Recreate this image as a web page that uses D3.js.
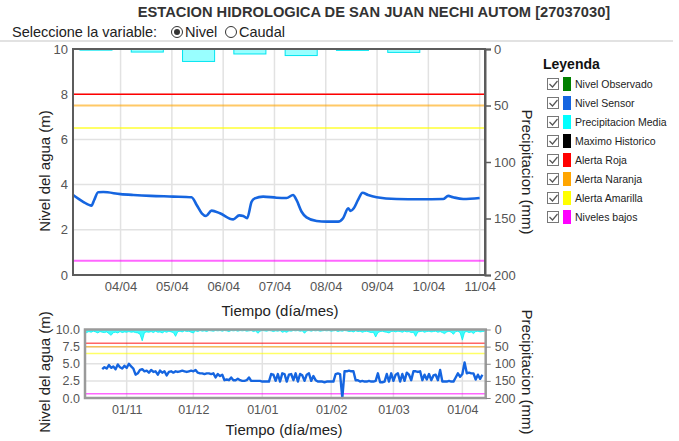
<!DOCTYPE html>
<html><head><meta charset="utf-8">
<script src="https://cdn.jsdelivr.net/npm/d3@7"></script>
<style>body{margin:0;background:#fff}svg{display:block;font-family:"Liberation Sans",Arial,sans-serif}</style>
</head><body><svg id="c" width="679" height="441"></svg>
<script>
// ---------- DATA ----------
const title = "ESTACION HIDROLOGICA DE SAN JUAN NECHI AUTOM [27037030]";
const mainDomain = ["2021-04-03 01:45", "2021-04-11 02:30"];
const mainTimes = ["2021-04-03 01:48","2021-04-03 06:30","2021-04-03 10:24","2021-04-03 11:40","2021-04-03 13:30","2021-04-03 15:54","2021-04-04 00:00","2021-04-04 06:00","2021-04-04 14:00","2021-04-05 00:36","2021-04-05 09:12","2021-04-05 11:36","2021-04-05 14:00","2021-04-05 16:00","2021-04-05 18:36","2021-04-05 22:30","2021-04-06 04:42","2021-04-06 07:30","2021-04-06 09:24","2021-04-06 11:12","2021-04-06 13:18","2021-04-06 14:48","2021-04-06 18:42","2021-04-07 01:00","2021-04-07 05:42","2021-04-07 08:42","2021-04-07 10:18","2021-04-07 12:42","2021-04-07 15:00","2021-04-07 19:42","2021-04-08 00:24","2021-04-08 05:48","2021-04-08 08:06","2021-04-08 10:30","2021-04-08 11:36","2021-04-08 13:06","2021-04-08 15:06","2021-04-08 17:12","2021-04-08 19:48","2021-04-08 23:48","2021-04-09 09:06","2021-04-09 20:00","2021-04-10 06:54","2021-04-10 09:18","2021-04-10 11:36","2021-04-10 16:18","2021-04-11 00:00"];
const mainLevels = [3.54,3.24,3.07,3.32,3.66,3.67,3.58,3.54,3.50,3.47,3.44,3.10,2.73,2.61,2.85,2.73,2.46,2.64,2.61,2.51,3.24,3.39,3.47,3.42,3.41,3.54,3.32,2.80,2.55,2.39,2.36,2.36,2.51,2.95,2.83,2.95,3.32,3.64,3.54,3.44,3.36,3.35,3.36,3.50,3.44,3.36,3.41];
const precipDays = ["2021-04-03","2021-04-04","2021-04-05","2021-04-06","2021-04-07","2021-04-08","2021-04-09"];
const precipValues = [1.0, 2.7, 11.0, 4.4, 5.8, 1.2, 3.0];
const thresholds = [
  {name:"Alerta Roja", value:8.0, color:"#ff0000"},
  {name:"Alerta Naranja", value:7.5, color:"#ffa500"},
  {name:"Alerta Amarilla", value:6.5, color:"#ffff00"},
  {name:"Niveles bajos", value:0.63, color:"#ff00ff"}
];
const levelTicks = [0,2,4,6,8,10];
const precipTicks = [0,50,100,150,200];
const overviewLevelTicks = [0,2.5,5,7.5,10];
// overview (last 180 days)
const overviewDomain = ["2020-10-13 06:00", "2021-04-11 12:00"];
const overviewLevelStart = "2020-10-21 00:00";
const overviewLevels = [4.2,4.5,4.3,4.8,4.4,4.6,4.2,4.9,4.5,4.3,4.7,4.4,5.0,4.6,4.3,
 3.4,3.6,4.1,4.2,3.9,
 4.0,3.7,4.1,3.8,3.9,3.4,4.0,3.7,3.9,3.3,3.8,3.9,3.7,
 3.9,3.8,3.9,4.0,3.9,3.8,3.9,4.0,3.9,4.1,
 3.7,3.6,3.6,3.5,3.6,3.6,3.5,3.6,
 3.0,3.5,3.2,3.4,
 2.6,2.7,2.6,3.0,2.6,2.6,2.8,2.6,
 2.5,2.5,2.6,3.0,2.5,2.5,2.5,2.5,2.5,
 2.4,2.4,2.4,2.4,
 3.5,3.4,2.5,3.5,2.4,3.6,3.5,2.4,3.4,3.5,2.6,3.6,2.4,3.5,3.3,2.5,3.4,3.6,2.5,3.2,2.6,
 2.4,2.4,2.4,2.3,2.4,2.4,2.4,2.4,
 3.5,3.6,3.5,
 0.0,
 3.9,3.9,4.0,3.9,3.9,
 2.6,2.6,
 2.4,2.5,2.4,2.4,2.5,2.4,2.4,2.5,3.6,
 2.3,2.3,2.4,
 3.5,2.4,3.6,2.5,3.4,3.6,2.4,3.5,2.5,3.7,3.4,2.6,
 3.9,3.9,3.8,3.9,
 2.6,3.4,2.7,3.5,2.6,3.3,3.4,2.6,
 4.1,
 2.4,2.4,2.4,2.5,2.4,2.4,
 3.0,3.6,3.1,3.5,
 5.2,
 3.6,3.7,3.6,3.6,
 2.7,3.4,2.8,
 3.4];
const overviewPrecipStart = "2020-10-13 00:00";
const overviewPrecip = [11,9,6,8,5,7,10,6,8,9, 7,12,17,9,8,10,6,9,7,8, 6,8,7,9,10,14,33,9,7,8,
 6,9,5,8,7,10,6,8,5,7, 9,20,6,5,7,4,6,5,8,10, 4,6,3,5,4,6,3,4,5,3, 4,3,5,3,4,6,3,4,3,5,
 3,4,3,5,4,3,6,4,11,5, 3,4,5,3,4,6,4,5,3,8, 6,8,4,5,3,4,3,5,4,11, 4,3,5,3,4,3,5,4,3,4,
 3,5,4,3,6,4,5,3,4,6, 5,7,4,6,5,8,6,5,7,9, 8,22,9,6,5,7,8,10,6,5, 7,5,6,8,5,7,6,9,8,20,
 7,6,5,8,6,5,7,6,5,8, 6,9,12,7,5,8,14,6,5,9, 31,8,6,9,7,12,6,5,7,6, 5];
const legendItems = [
  {name:"Nivel Observado", color:"#008000"},
  {name:"Nivel Sensor", color:"#1565e0"},
  {name:"Precipitacion Media", color:"#00ffff"},
  {name:"Maximo Historico", color:"#000000"},
  {name:"Alerta Roja", color:"#ff0000"},
  {name:"Alerta Naranja", color:"#ffa500"},
  {name:"Alerta Amarilla", color:"#ffff00"},
  {name:"Niveles bajos", color:"#ff00ff"}
];

// ---------- DRAW ----------
const parse = d3.timeParse("%Y-%m-%d %H:%M");
const parseDay = d3.timeParse("%Y-%m-%d");
const svg = d3.select("#c");
const BLUE = "#1565e0";

svg.append("text").attr("x",374).attr("y",17).attr("text-anchor","middle")
  .attr("font-size","14.7px").attr("font-weight","bold").attr("fill","#333").text(title);
svg.append("text").attr("x",12).attr("y",37).attr("font-size","14.5px").attr("fill","#222").text("Seleccione la variable:");
svg.append("circle").attr("cx",177).attr("cy",32).attr("r",5.5).attr("fill","#fff").attr("stroke","#333").attr("stroke-width",1);
svg.append("circle").attr("cx",177).attr("cy",32).attr("r",3).attr("fill","#333");
svg.append("text").attr("x",185).attr("y",37).attr("font-size","14.5px").attr("fill","#222").text("Nivel");
svg.append("circle").attr("cx",231).attr("cy",32).attr("r",5.5).attr("fill","#fff").attr("stroke","#333").attr("stroke-width",1);
svg.append("text").attr("x",239).attr("y",37).attr("font-size","14.5px").attr("fill","#222").text("Caudal");
svg.append("line").attr("x1",0).attr("x2",673).attr("y1",41).attr("y2",41).attr("stroke","#e2e2e2").attr("stroke-width",2);

function styleAxis(g, size){
  g.selectAll("text").attr("fill","#555").attr("font-size",size).attr("font-family","Liberation Sans, Arial, sans-serif");
}

// ===== MAIN CHART =====
const mL=73, mR=485, mT=49, mB=275;
const x = d3.scaleTime().domain(mainDomain.map(parse)).range([mL,mR]);
const y = d3.scaleLinear().domain([0,10]).range([mB,mT]);
const yP = d3.scaleLinear().domain([0,200]).range([mT,mB]);
const days = d3.timeDay.range(d3.timeDay.ceil(x.domain()[0]), x.domain()[1]);

const gm = svg.append("g");
gm.selectAll(".vg").data(days).join("line").attr("x1",d=>x(d)).attr("x2",d=>x(d)).attr("y1",mT).attr("y2",mB)
  .attr("stroke","#e2e2e2").attr("stroke-width",1.5);
gm.selectAll(".hg").data(levelTicks.slice(1,-1)).join("line").attr("x1",mL).attr("x2",mR).attr("y1",d=>y(d)).attr("y2",d=>y(d))
  .attr("stroke","#e2e2e2").attr("stroke-width",1.5);

// precipitation bars (hang from top)
const pdata = precipDays.map((d,i)=>({t:parseDay(d), v:precipValues[i]}));
gm.selectAll(".pb").data(pdata).join("rect")
  .attr("x",d=>x(d3.timeHour.offset(d.t,5)))
  .attr("width",d=>x(d3.timeHour.offset(d.t,20))-x(d3.timeHour.offset(d.t,5)))
  .attr("y",yP(0)).attr("height",d=>yP(d.v)-yP(0))
  .attr("fill","#00ffff").attr("fill-opacity",0.4).attr("stroke","#00e5f0").attr("stroke-width",1);

// thresholds
gm.selectAll(".th").data(thresholds).join("line").attr("x1",mL).attr("x2",mR)
  .attr("y1",d=>y(d.value)).attr("y2",d=>y(d.value)).attr("stroke",d=>d.color)
  .attr("stroke-width",(d,i)=>i==0?1.5:2).attr("stroke-opacity",(d,i)=>i==0?1:0.6);

// level line
const mdata = mainTimes.map((t,i)=>({t:parse(t), v:mainLevels[i]}));
gm.append("path").datum(mdata).attr("fill","none").attr("stroke",BLUE).attr("stroke-width",2.6)
  .attr("stroke-linejoin","round").attr("d", d3.line().x(d=>x(d.t)).y(d=>y(d.v)).curve(d3.curveMonotoneX));

gm.append("rect").attr("x",mL).attr("y",mT).attr("width",mR-mL).attr("height",mB-mT)
  .attr("fill","none").attr("stroke","#5c5c5c").attr("stroke-width",2);

const axL = gm.append("g").attr("transform",`translate(${mL},0)`).call(d3.axisLeft(y).tickValues(levelTicks).tickSize(0).tickPadding(5));
axL.select(".domain").remove(); styleAxis(axL,"13px");
const axR = gm.append("g").attr("transform",`translate(${mR},0)`).call(d3.axisRight(yP).tickValues(precipTicks).tickSize(6).tickPadding(3));
axR.select(".domain").attr("stroke","#5c5c5c").attr("stroke-width",2); axR.selectAll("line").attr("stroke","#5c5c5c").attr("stroke-width",1.5);
styleAxis(axR,"13px");
const axB = gm.append("g").attr("transform",`translate(0,${mB})`).call(d3.axisBottom(x).tickValues(days).tickFormat(d3.timeFormat("%d/%m")).tickSize(0).tickPadding(7));
axB.select(".domain").remove(); styleAxis(axB,"13px");

svg.append("text").attr("transform","translate(50,171) rotate(-90)").attr("text-anchor","middle").attr("font-size","15px").attr("fill","#222").text("Nivel del agua (m)");
svg.append("text").attr("transform","translate(522,172) rotate(90)").attr("text-anchor","middle").attr("font-size","15px").attr("fill","#222").text("Precipitacion (mm)");
svg.append("text").attr("x",280).attr("y",316).attr("text-anchor","middle").attr("font-size","15px").attr("fill","#222").text("Tiempo (día/mes)");

// legend
const lg = svg.append("g");
lg.append("text").attr("x",543).attr("y",69).attr("font-size","14px").attr("font-weight","bold").attr("fill","#111").text("Leyenda");
legendItems.forEach((it,i)=>{
  const cy = 84 + i*19;
  lg.append("rect").attr("x",547.5).attr("y",cy-5.5).attr("width",11).attr("height",11).attr("fill","#fff").attr("stroke","#777").attr("stroke-width",1);
  lg.append("path").attr("d",`M${549.5},${cy} l3,3 l5,-6`).attr("fill","none").attr("stroke","#555").attr("stroke-width",1.2);
  lg.append("rect").attr("x",563).attr("y",cy-7).attr("width",8).attr("height",14).attr("fill",it.color);
  lg.append("text").attr("x",575).attr("y",cy+4).attr("font-size","10.5px").attr("fill","#222").text(it.name);
});

// ===== OVERVIEW CHART =====
const bL=85, bR=485.7, bT=329.5, bB=398;
const x2 = d3.scaleTime().domain(overviewDomain.map(parse)).range([bL,bR]);
const y2 = d3.scaleLinear().domain([0,10]).range([bB,bT]);
const yP2 = d3.scaleLinear().domain([0,200]).range([bT,bB]);
const months = d3.timeMonth.range(d3.timeMonth.ceil(x2.domain()[0]), x2.domain()[1]);
const go = svg.append("g");
go.selectAll(".vg2").data(months).join("line").attr("x1",d=>x2(d)).attr("x2",d=>x2(d)).attr("y1",bT).attr("y2",bB)
  .attr("stroke","#e2e2e2").attr("stroke-width",1.5);
go.selectAll(".hg2").data(overviewLevelTicks.slice(1,-1)).join("line").attr("x1",bL).attr("x2",bR).attr("y1",d=>y2(d)).attr("y2",d=>y2(d))
  .attr("stroke","#e2e2e2").attr("stroke-width",1.5);

const p0 = parse(overviewPrecipStart);
const opd = overviewPrecip.map((v,i)=>({t:d3.timeDay.offset(p0,i), v}));
go.append("path").datum(opd).attr("fill","#00ffff").attr("fill-opacity",0.75).attr("stroke","#00f0f0").attr("stroke-width",0.8)
  .attr("d", d3.area().x(d=>x2(d.t)).y0(yP2(0)).y1(d=>yP2(d.v)).curve(d3.curveLinear));

go.selectAll(".th2").data(thresholds).join("line").attr("x1",bL).attr("x2",bR)
  .attr("y1",d=>y2(d.value)).attr("y2",d=>y2(d.value)).attr("stroke",d=>d.color)
  .attr("stroke-width",1.5).attr("stroke-opacity",0.6);

const l0 = parse(overviewLevelStart);
const old = overviewLevels.map((v,i)=>({t:d3.timeDay.offset(l0,i), v}));
go.append("path").datum(old).attr("fill","none").attr("stroke",BLUE).attr("stroke-width",2.4)
  .attr("stroke-linejoin","round").attr("d", d3.line().x(d=>x2(d.t)).y(d=>y2(d.v)).curve(d3.curveLinear));

go.append("rect").attr("x",bL).attr("y",bT).attr("width",bR-bL).attr("height",bB-bT)
  .attr("fill","none").attr("stroke","#9a9a9a").attr("stroke-width",2.5);
const a2L = go.append("g").attr("transform",`translate(${bL},0)`).call(d3.axisLeft(y2).tickValues(overviewLevelTicks).tickFormat(d3.format(".1f")).tickSize(0).tickPadding(5));
a2L.select(".domain").remove(); styleAxis(a2L,"12.5px");
const a2R = go.append("g").attr("transform",`translate(${bR},0)`).call(d3.axisRight(yP2).tickValues(precipTicks).tickSize(5).tickPadding(4));
a2R.select(".domain").remove(); a2R.selectAll("line").attr("stroke","#888"); styleAxis(a2R,"12.5px");
const a2B = go.append("g").attr("transform",`translate(0,${bB})`).call(d3.axisBottom(x2).tickValues(months).tickFormat(d3.timeFormat("%d/%m")).tickSize(0).tickPadding(7));
a2B.select(".domain").remove(); styleAxis(a2B,"12.5px");

svg.append("text").attr("transform","translate(50,372) rotate(-90)").attr("text-anchor","middle").attr("font-size","15px").attr("fill","#222").text("Nivel del agua (m)");
svg.append("text").attr("transform","translate(522,372) rotate(90)").attr("text-anchor","middle").attr("font-size","15px").attr("fill","#222").text("Precipitacion (mm)");
svg.append("text").attr("x",284).attr("y",435).attr("text-anchor","middle").attr("font-size","15px").attr("fill","#222").text("Tiempo (día/mes)");
</script></body></html>
